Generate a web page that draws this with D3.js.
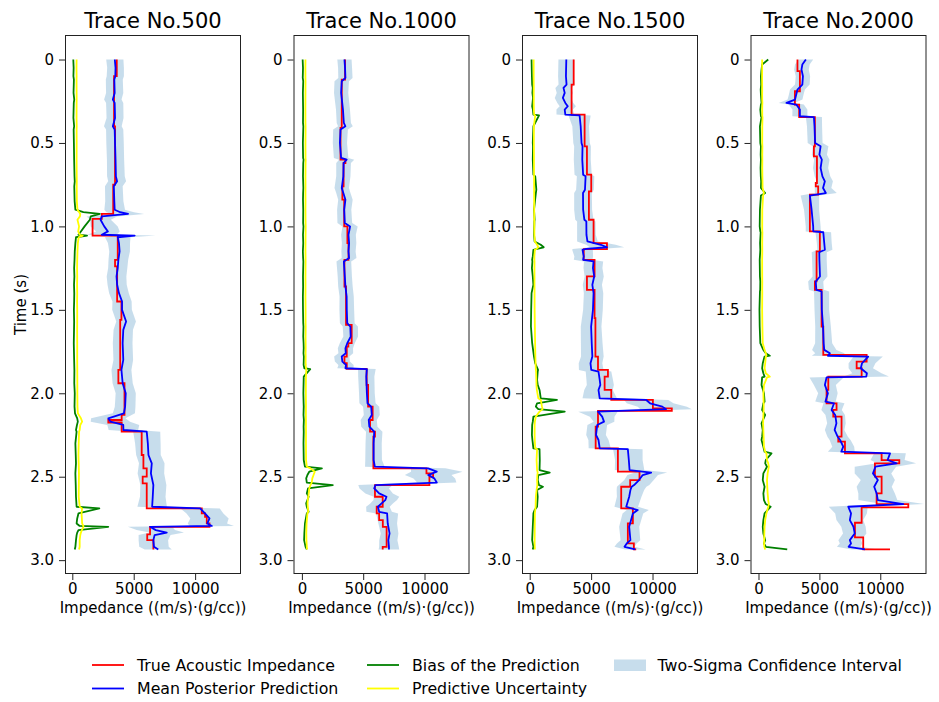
<!DOCTYPE html>
<html>
<head>
<meta charset="utf-8">
<script src="https://cdn.jsdelivr.net/npm/d3@7"></script>
<style>
  body { margin: 0; background: #fff; }
  svg { display: block; }
  text { font-family: "DejaVu Sans", sans-serif; fill: #000; }
</style>
</head>
<body>
<svg id="chart" width="939" height="702"></svg>
<script>
// ---- Data -----------------------------------------------------------------
const traceTitles = ["Trace No.500", "Trace No.1000", "Trace No.1500", "Trace No.2000"];
const timeTicks = [0, 0.5, 1.0, 1.5, 2.0, 2.5, 3.0];
const timeTickLabels = ["0", "0.5", "1.0", "1.5", "2.0", "2.5", "3.0"];
const impedanceTicks = [0, 5000, 10000];
const impedanceTickLabels = ["0", "5000", "10000"];
const seriesNames = ["True Acoustic Impedance", "Mean Posterior Prediction", "Bias of the Prediction",
                     "Predictive Uncertainty", "Two-Sigma Confidence Interval"];

// True acoustic impedance, blocky: [start time (s), impedance]
const true500 = [[0, 3620], [0.10, 3400], [0.40, 3480], [0.75, 3330], [0.925, 2400], [0.955, 1650],
  [1.055, 3700], [1.20, 3480], [1.24, 3650], [1.45, 4000], [1.56, 3900], [1.86, 3750], [1.94, 4250],
  [2.13, 4020], [2.16, 2930], [2.175, 4020], [2.23, 5650], [2.37, 5790], [2.45, 6060], [2.50, 5730],
  [2.54, 6060], [2.69, 10540], [2.72, 10810], [2.74, 10950], [2.78, 11170], [2.80, 6330], [2.845, 6100],
  [2.88, 6600], [2.936, 6600]];
const true1000 = [[0, 3520], [0.12, 3250], [0.41, 3150], [0.60, 3550], [0.62, 3400], [0.76, 3300],
  [0.84, 3450], [1.00, 3710], [1.10, 3800], [1.20, 3470], [1.36, 3600], [1.59, 4060], [1.70, 3790],
  [1.72, 3660], [1.78, 3470], [1.82, 3660], [1.854, 5280], [1.95, 5400], [2.08, 5770], [2.16, 5560],
  [2.23, 5960], [2.26, 5830], [2.45, 10160], [2.48, 10700], [2.50, 10400], [2.55, 5960], [2.62, 6590],
  [2.68, 6100], [2.72, 6300], [2.76, 6600], [2.80, 6910], [2.92, 6590], [2.936, 6590]];
const true1500 = [[0, 3580], [0.15, 3410], [0.33, 4470], [0.52, 4660], [0.69, 5010], [0.79, 4820],
  [0.96, 5200], [1.10, 6290], [1.136, 4400], [1.20, 5280], [1.30, 4660], [1.38, 5280], [1.55, 5350],
  [1.78, 5560], [1.86, 6370], [1.90, 6100], [1.98, 6640], [2.04, 10030], [2.09, 11570], [2.105, 5560],
  [2.20, 5370], [2.33, 7180], [2.47, 8940], [2.52, 8180], [2.56, 7450], [2.69, 8400], [2.78, 7990],
  [2.90, 8480], [2.936, 8670]];
const true2000 = [[0, 3200], [0.07, 3400], [0.19, 2990], [0.27, 3340], [0.345, 4630], [0.52, 4550],
  [0.58, 4800], [0.74, 4700], [0.76, 4900], [0.81, 4220], [1.03, 5040], [1.15, 4770], [1.33, 4630],
  [1.38, 5180], [1.60, 5320], [1.77, 8880], [1.81, 8060], [1.85, 8470], [1.90, 5730], [1.98, 5590],
  [2.06, 6410], [2.10, 6140], [2.14, 6820], [2.26, 6550], [2.29, 7100], [2.36, 10110], [2.40, 11560],
  [2.42, 9560], [2.50, 10110], [2.60, 9700], [2.664, 12300], [2.684, 8470], [2.776, 7920],
  [2.864, 8600], [2.936, 10800]];

// Posterior summary: [time (s), mean prediction, predictive std (sigma), bias]
const post500 = [[0.00, 3460, 350, 80], [0.05, 3520, 340, 110], [0.10, 3500, 350, 90], [0.12, 3420, 345, 130],
  [0.20, 3450, 350, 100], [0.24, 3300, 355, 160], [0.26, 3450, 350, 120], [0.35, 3480, 345, 90],
  [0.40, 3300, 360, 150], [0.42, 3450, 350, 110], [0.50, 3480, 355, 130], [0.60, 3520, 350, 150],
  [0.70, 3550, 360, 180], [0.73, 3650, 365, 200], [0.76, 3380, 360, 160], [0.85, 3420, 370, 190],
  [0.90, 3450, 420, 250], [0.915, 3900, 560, 900], [0.925, 4540, 650, 2240], [0.94, 2400, 620, 1500],
  [0.96, 2300, 420, 1430], [1.00, 2600, 550, 1000], [1.03, 2900, 480, 700], [1.05, 2400, 600, 500],
  [1.055, 5080, 850, 1200], [1.065, 3700, 520, 300], [1.10, 3800, 450, 250], [1.15, 3850, 420, 200],
  [1.20, 3750, 400, 180], [1.25, 3700, 390, 150], [1.30, 3600, 400, 170], [1.35, 3650, 390, 140],
  [1.40, 3800, 400, 160], [1.45, 4050, 390, 150], [1.50, 4050, 400, 130], [1.57, 4380, 400, 150],
  [1.62, 4150, 395, 140], [1.70, 4100, 400, 120], [1.80, 4150, 400, 150], [1.86, 4000, 405, 170],
  [1.94, 4100, 410, 160], [2.00, 4350, 410, 200], [2.08, 4300, 420, 180], [2.12, 4200, 450, 220],
  [2.15, 2930, 700, 400], [2.17, 3100, 800, 450], [2.19, 4150, 650, 380], [2.22, 4160, 600, 300],
  [2.23, 6060, 550, 350], [2.30, 6150, 520, 250], [2.37, 6200, 500, 280], [2.42, 6470, 520, 300],
  [2.48, 6400, 540, 250], [2.55, 6600, 530, 280], [2.62, 6550, 520, 300], [2.68, 6500, 600, 350],
  [2.69, 10410, 800, 2200], [2.72, 10800, 750, 500], [2.75, 11170, 780, 400], [2.78, 11000, 800, 350],
  [2.795, 11360, 900, 600], [2.80, 6330, 900, 2930], [2.82, 6800, 780, 500], [2.835, 7690, 700, 400],
  [2.85, 6700, 650, 350], [2.88, 6600, 600, 300], [2.92, 6650, 600, 250], [2.936, 7000, 550, 200]];
const post1000 = [[0.00, 3470, 290, 60], [0.05, 3520, 285, 90], [0.11, 3550, 290, 70], [0.13, 3250, 295, 110],
  [0.20, 3200, 290, 80], [0.30, 3350, 285, 100], [0.38, 3420, 290, 90], [0.40, 3550, 300, 120],
  [0.42, 3150, 300, 110], [0.50, 3100, 290, 80], [0.59, 3200, 295, 100], [0.60, 3650, 310, 140],
  [0.62, 3400, 300, 110], [0.70, 3380, 290, 90], [0.77, 3250, 295, 120], [0.80, 3380, 290, 100],
  [0.84, 3550, 295, 90], [0.90, 3450, 290, 110], [0.98, 3500, 300, 100], [1.00, 3930, 310, 130],
  [1.05, 3800, 300, 90], [1.10, 3850, 295, 110], [1.15, 3800, 290, 80], [1.19, 3850, 300, 100],
  [1.21, 3420, 300, 120], [1.30, 3500, 290, 90], [1.36, 3550, 295, 100], [1.42, 3650, 290, 80],
  [1.50, 3660, 300, 90], [1.58, 3700, 300, 110], [1.60, 3950, 310, 130], [1.66, 3980, 300, 110],
  [1.70, 3700, 305, 140], [1.73, 3550, 310, 150], [1.76, 3580, 300, 130], [1.78, 3250, 310, 160],
  [1.81, 3300, 305, 150], [1.83, 3600, 310, 140], [1.85, 3550, 330, 200], [1.855, 5300, 360, 680],
  [1.90, 5250, 330, 150], [2.00, 5300, 320, 120], [2.06, 5350, 330, 140], [2.08, 5650, 330, 150],
  [2.13, 5700, 325, 130], [2.16, 5450, 330, 160], [2.20, 5500, 330, 140], [2.23, 5900, 335, 150],
  [2.30, 5850, 330, 130], [2.40, 5850, 340, 150], [2.44, 5950, 400, 250], [2.45, 10300, 700, 1630],
  [2.47, 11000, 1050, 600], [2.49, 10300, 950, 450], [2.51, 10800, 850, 350], [2.535, 11000, 800, 400],
  [2.55, 6000, 700, 2520], [2.57, 5900, 600, 500], [2.60, 6300, 560, 400], [2.62, 6900, 520, 550],
  [2.64, 6800, 480, 450], [2.66, 6500, 460, 350], [2.68, 6200, 480, 400], [2.71, 6300, 520, 550],
  [2.72, 6950, 450, 400], [2.78, 7000, 380, 250], [2.84, 7150, 360, 200], [2.88, 7050, 370, 180],
  [2.92, 7100, 400, 300], [2.936, 7100, 420, 400]];
const post1500 = [[0.00, 2980, 320, 150], [0.10, 2950, 320, 180], [0.15, 3000, 325, 200], [0.17, 2750, 330, 250],
  [0.20, 2850, 325, 220], [0.23, 2700, 330, 270], [0.26, 2900, 325, 230], [0.28, 3100, 330, 200],
  [0.30, 2850, 335, 260], [0.33, 2900, 360, 300], [0.335, 4060, 450, 760], [0.40, 4150, 340, 300],
  [0.50, 4220, 335, 250], [0.52, 4300, 340, 270], [0.60, 4280, 345, 250], [0.69, 4350, 350, 300],
  [0.70, 4550, 355, 450], [0.78, 4500, 360, 540], [0.80, 4340, 360, 500], [0.90, 4350, 365, 350],
  [0.96, 4450, 370, 400], [0.97, 4610, 375, 380], [1.05, 4620, 380, 350], [1.09, 4700, 420, 400],
  [1.11, 5800, 600, 900], [1.125, 6290, 700, 1140], [1.135, 4600, 550, 600], [1.14, 4300, 420, 300],
  [1.18, 4400, 380, 250], [1.20, 4350, 380, 200], [1.21, 5200, 390, 220], [1.25, 5150, 385, 180],
  [1.30, 5250, 390, 250], [1.35, 5100, 390, 300], [1.40, 5200, 395, 150], [1.50, 5150, 400, 120],
  [1.60, 5000, 420, 100], [1.70, 5050, 440, 200], [1.78, 5100, 460, 350], [1.82, 4950, 480, 450],
  [1.86, 5010, 500, 680], [1.87, 5600, 520, 650], [1.92, 5700, 540, 600], [1.95, 5750, 550, 650],
  [1.98, 5600, 580, 800], [2.03, 5700, 700, 900], [2.04, 9490, 900, 2220], [2.06, 9800, 950, 600],
  [2.08, 10800, 1000, 500], [2.095, 11100, 1050, 700], [2.11, 5560, 800, 2850], [2.14, 5900, 500, 300],
  [2.17, 6050, 420, 250], [2.19, 5500, 400, 200], [2.25, 5400, 400, 180], [2.28, 5600, 410, 220],
  [2.33, 5700, 450, 300], [2.335, 7990, 600, 800], [2.40, 8070, 560, 820], [2.46, 8130, 600, 800],
  [2.475, 9890, 650, 1630], [2.49, 9200, 620, 700], [2.52, 8900, 600, 650], [2.55, 8500, 620, 750],
  [2.56, 8300, 600, 1080], [2.58, 8200, 560, 600], [2.62, 8100, 500, 650], [2.68, 7860, 480, 600],
  [2.70, 8800, 450, 400], [2.72, 8400, 420, 300], [2.80, 8100, 410, 250], [2.88, 8200, 400, 200],
  [2.90, 7900, 400, 250], [2.92, 7720, 410, 300], [2.936, 8600, 420, 250]];
const post2000 = [[0.00, 3890, 300, 800], [0.03, 3600, 300, 300], [0.06, 3530, 300, 250], [0.10, 3650, 295, 200],
  [0.15, 3600, 300, 220], [0.18, 3200, 305, 180], [0.21, 3100, 300, 200], [0.24, 3000, 305, 230],
  [0.26, 2300, 320, 250], [0.27, 3100, 310, 200], [0.30, 3400, 305, 150], [0.34, 3400, 310, 200],
  [0.345, 4550, 330, 250], [0.40, 4600, 310, 120], [0.50, 4650, 305, 150], [0.52, 5100, 320, 200],
  [0.57, 5000, 310, 180], [0.60, 5200, 315, 200], [0.65, 5100, 310, 170], [0.70, 5250, 320, 190],
  [0.73, 5450, 330, 220], [0.77, 5300, 340, 200], [0.80, 5530, 450, 550], [0.815, 4220, 380, 200],
  [0.90, 4360, 310, 120], [1.00, 4490, 305, 100], [1.03, 4500, 310, 150], [1.035, 5320, 320, 180],
  [1.10, 5400, 305, 130], [1.14, 5450, 310, 150], [1.155, 4990, 310, 140], [1.20, 5000, 300, 100],
  [1.30, 5050, 305, 120], [1.33, 4700, 310, 150], [1.38, 4750, 305, 140], [1.39, 5180, 310, 120],
  [1.50, 5200, 300, 80], [1.60, 5300, 320, 100], [1.70, 5350, 350, 150], [1.74, 5400, 500, 400],
  [1.76, 5860, 600, 600], [1.775, 5700, 660, 930], [1.78, 9010, 600, 500], [1.82, 8500, 550, 350],
  [1.85, 8400, 500, 300], [1.88, 8900, 600, 400], [1.90, 8850, 930, 500], [1.905, 5590, 700, 300],
  [1.95, 5450, 450, 250], [2.00, 5700, 400, 450], [2.05, 5500, 420, 500], [2.06, 6200, 430, 400],
  [2.10, 6000, 420, 300], [2.13, 6300, 400, 550], [2.18, 6400, 380, 250], [2.22, 6250, 400, 350],
  [2.26, 6500, 420, 300], [2.28, 6700, 430, 250], [2.32, 6960, 450, 400], [2.35, 6800, 550, 500],
  [2.36, 10800, 650, 1070], [2.40, 10600, 700, 600], [2.42, 11340, 800, 550], [2.44, 9600, 850, 700],
  [2.48, 9400, 750, 400], [2.52, 9800, 700, 350], [2.56, 9500, 720, 500], [2.60, 9700, 750, 400],
  [2.64, 9800, 800, 450], [2.664, 11890, 850, 600], [2.68, 7370, 800, 1000], [2.72, 7600, 650, 500],
  [2.76, 7500, 550, 400], [2.80, 7800, 500, 350], [2.84, 7900, 480, 400], [2.88, 7500, 470, 550],
  [2.90, 7600, 460, 450], [2.92, 7400, 480, 600], [2.936, 8740, 550, 2360]];

// Impedance axis limits of each panel
const impedanceLimits = [[-595, 13736], [-685, 13670], [-628, 13703], [-656, 13795]];
const timeLimits = [-0.147, 3.083];

// ---- Layout ---------------------------------------------------------------
const panels = [
  { title: traceTitles[0], truth: true500, post: post500, xlim: impedanceLimits[0] },
  { title: traceTitles[1], truth: true1000, post: post1000, xlim: impedanceLimits[1] },
  { title: traceTitles[2], truth: true1500, post: post1500, xlim: impedanceLimits[2] },
  { title: traceTitles[3], truth: true2000, post: post2000, xlim: impedanceLimits[3] }
];
const panelLeft = [65, 293.5, 522, 750.5];
const panelW = 176, panelTop = 35, panelH = 539;
const colors = { truth: "#ff0000", mean: "#0000ff", bias: "#008000", sigma: "#ffff00", band: "#1f77b4" };
const lw = 1.8;
const tickFont = 15, labelFont = 15, legendFont = 15.8, titleFont = 21;

const svg = d3.select("#chart");
const y = d3.scaleLinear().domain(timeLimits).range([panelTop, panelTop + panelH]);

panels.forEach((p, i) => {
  const x = d3.scaleLinear().domain(p.xlim).range([0, panelW]);
  const g = svg.append("g").attr("transform", `translate(${panelLeft[i]},0)`);

  // two-sigma band around the mean prediction
  g.append("path")
    .datum(p.post)
    .attr("d", d3.area().y(d => y(d[0])).x0(d => x(d[1] - 2 * d[2])).x1(d => x(d[1] + 2 * d[2])))
    .attr("fill", colors.band).attr("fill-opacity", 0.25).attr("stroke", "none");

  // true impedance as a step log
  g.append("path")
    .datum(p.truth)
    .attr("d", d3.line().x(d => x(d[1])).y(d => y(d[0])).curve(d3.curveStepBefore))
    .attr("fill", "none").attr("stroke", colors.truth).attr("stroke-width", lw);

  const postLine = col => d3.line().x(d => x(d[col])).y(d => y(d[0]));
  g.append("path").datum(p.post).attr("d", postLine(1))
    .attr("fill", "none").attr("stroke", colors.mean).attr("stroke-width", lw).attr("stroke-linejoin", "round");
  g.append("path").datum(p.post).attr("d", postLine(3))
    .attr("fill", "none").attr("stroke", colors.bias).attr("stroke-width", lw).attr("stroke-linejoin", "round");
  g.append("path").datum(p.post).attr("d", postLine(2))
    .attr("fill", "none").attr("stroke", colors.sigma).attr("stroke-width", lw).attr("stroke-linejoin", "round");

  // frame
  g.append("rect").attr("x", 0.5).attr("y", panelTop + 0.5).attr("width", panelW - 1).attr("height", panelH - 1)
    .attr("fill", "none").attr("stroke", "#222").attr("stroke-width", 1);

  // impedance axis
  const xAxis = d3.axisBottom(x).tickValues(impedanceTicks).tickFormat((d, k) => impedanceTickLabels[k])
    .tickSizeOuter(0).tickSize(6).tickPadding(3);
  const xa = g.append("g").attr("transform", `translate(0,${panelTop + panelH})`).call(xAxis);
  xa.select(".domain").remove();
  xa.selectAll("line").attr("stroke", "#222");
  xa.selectAll("text").attr("font-size", tickFont).attr("font-family", "DejaVu Sans").attr("fill", "#000");

  // time axis
  const yAxis = d3.axisLeft(y).tickValues(timeTicks).tickFormat((d, k) => timeTickLabels[k])
    .tickSizeOuter(0).tickSize(6).tickPadding(5);
  const ya = g.append("g").call(yAxis);
  ya.select(".domain").remove();
  ya.selectAll("line").attr("stroke", "#222");
  ya.selectAll("text").attr("font-size", tickFont).attr("font-family", "DejaVu Sans").attr("fill", "#000");

  g.append("text").attr("x", panelW / 2).attr("y", 28).attr("text-anchor", "middle")
    .attr("font-size", titleFont).text(p.title);
  g.append("text").attr("x", panelW / 2).attr("y", 613).attr("text-anchor", "middle")
    .attr("font-size", labelFont).text("Impedance ((m/s)·(g/cc))");
});

svg.append("text").attr("transform", `translate(26,${panelTop + panelH / 2}) rotate(-90)`)
  .attr("text-anchor", "middle").attr("font-size", labelFont).text("Time (s)");

// ---- Legend ---------------------------------------------------------------
const legendItems = [
  { name: seriesNames[0], color: colors.truth, kind: "line", x: 92, y: 665 },
  { name: seriesNames[1], color: colors.mean, kind: "line", x: 92, y: 688.5 },
  { name: seriesNames[2], color: colors.bias, kind: "line", x: 367, y: 665 },
  { name: seriesNames[3], color: colors.sigma, kind: "line", x: 367, y: 688.5 },
  { name: seriesNames[4], color: colors.band, kind: "patch", x: 614, y: 665 }
];
const lg = svg.append("g");
legendItems.forEach(it => {
  if (it.kind === "line") {
    lg.append("line").attr("x1", it.x).attr("x2", it.x + 32).attr("y1", it.y).attr("y2", it.y)
      .attr("stroke", it.color).attr("stroke-width", lw);
  } else {
    lg.append("rect").attr("x", it.x).attr("y", it.y - 5.5).attr("width", 32).attr("height", 11.5)
      .attr("fill", it.color).attr("fill-opacity", 0.25);
  }
  lg.append("text").attr("x", it.x + (it.kind === "line" ? 45 : 43.5)).attr("y", it.y)
    .attr("dy", "0.35em").attr("font-size", legendFont).text(it.name);
});
</script>
</body>
</html>
